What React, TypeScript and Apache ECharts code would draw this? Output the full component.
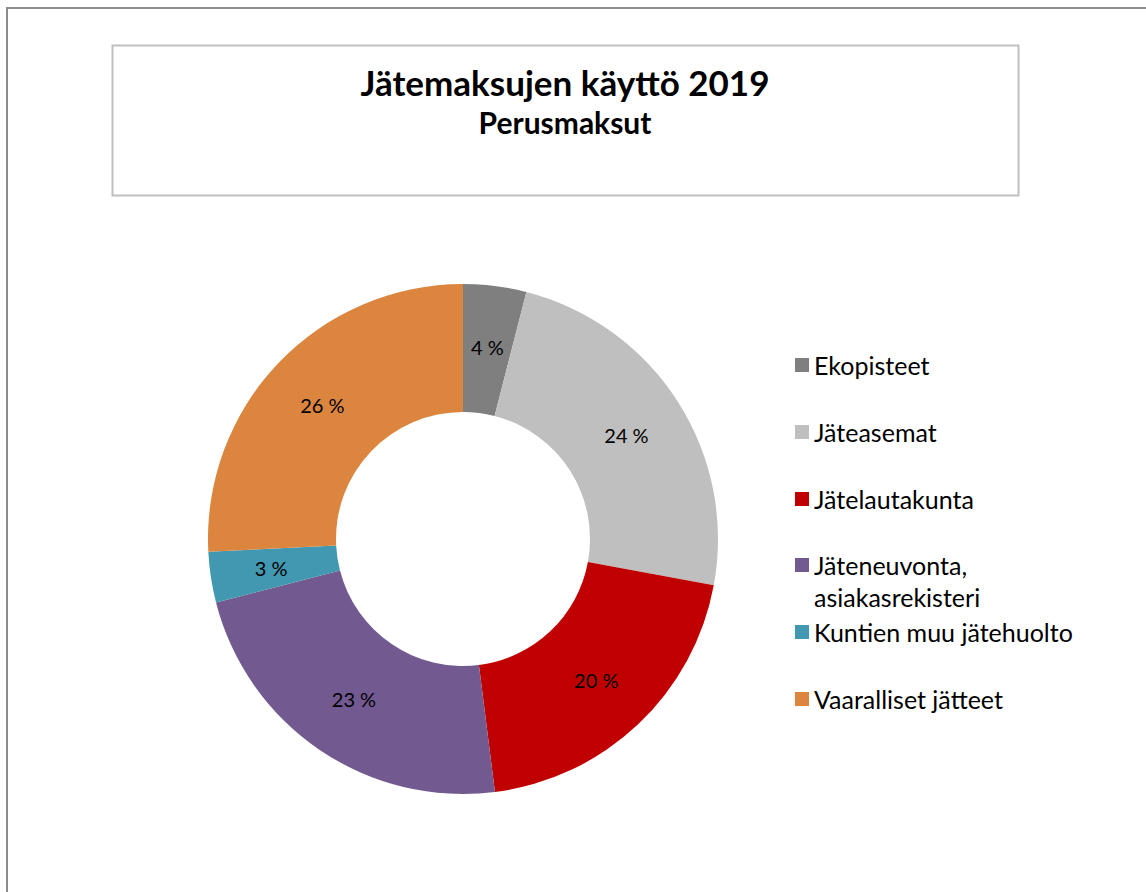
import React, { useEffect, useRef } from "react";
import * as echarts from "echarts";

const TITLE = "Jätemaksujen käyttö 2019";
const SUBTITLE = "Perusmaksut";
const CATEGORIES = [
  "Ekopisteet",
  "Jäteasemat",
  "Jätelautakunta",
  "Jäteneuvonta, asiakasrekisteri",
  "Kuntien muu jätehuolto",
  "Vaaralliset jätteet",
];
const VALUES = [4.0, 23.9, 20.1, 23.0, 3.2, 25.8];
const COLORS = ["#7f7f7f", "#bfbfbf", "#c00000", "#725a90", "#4298b0", "#dc853e"];

const FONT = "Lato, 'Open Sans', sans-serif";

export default function App() {
  const ref = useRef<HTMLDivElement>(null);
  useEffect(() => {
    if (!ref.current) return;
    const chart = echarts.init(ref.current, null, { renderer: "svg" });
    const legendCenters = [365, 432, 499, 565, 632, 699];
    const legends = CATEGORIES.map((name, i) => {
      const multi = name.includes(", ");
      return {
        data: [name],
        orient: "vertical",
        left: 795,
        top: multi ? legendCenters[i] - 48 : legendCenters[i] - 16,
        padding: 0,
        itemWidth: 14,
        itemHeight: 14,
        icon: "rect",
        selectedMode: false,
        formatter: (n: string) => (multi ? "\n" + n.replace(", ", ",\n") : n),
        textStyle: {
          fontSize: 25,
          lineHeight: 32,
          fontFamily: FONT,
          color: "#000",
        },
      };
    });
    chart.setOption({
      animation: false,
      backgroundColor: "#fff",
      title: [
        {
          text: TITLE,
          left: 565,
          top: 61,
          textAlign: "center",
          padding: 0,
          textStyle: { fontSize: 35, fontWeight: "bold", fontFamily: FONT, color: "#000", lineHeight: 42 },
        },
        {
          text: SUBTITLE,
          left: 565,
          top: 104,
          textAlign: "center",
          padding: 0,
          textStyle: { fontSize: 30, fontWeight: "bold", fontFamily: FONT, color: "#000", lineHeight: 36 },
        },
      ],
      legend: legends,
      graphic: [
        {
          type: "rect",
          shape: { x: 7, y: 8, width: 1160, height: 900 },
          style: { fill: "none", stroke: "#8c8c8c", lineWidth: 2 },
          silent: true,
        },
        {
          type: "rect",
          shape: { x: 112.5, y: 45.5, width: 906, height: 150 },
          style: { fill: "none", stroke: "#c0c0c0", lineWidth: 2 },
          silent: true,
        },
      ],
      series: [
        {
          type: "pie",
          center: [463, 539],
          radius: [127, 255],
          startAngle: 90,
          clockwise: true,
          avoidLabelOverlap: false,
          label: {
            show: true,
            position: "inside",
            fontSize: 20,
            fontFamily: FONT,
            color: "#000",
            formatter: (p: any) => Math.round(p.percent) + " %",
          },
          labelLine: { show: false },
          emphasis: { disabled: true },
          data: CATEGORIES.map((name, i) => ({
            name,
            value: VALUES[i],
            itemStyle: { color: COLORS[i] },
          })),
        },
      ],
    });
    return () => chart.dispose();
  }, []);
  return (
    <div
      ref={ref}
      style={{ position: "fixed", left: 0, top: 0, width: 1146, height: 892 }}
    />
  );
}
